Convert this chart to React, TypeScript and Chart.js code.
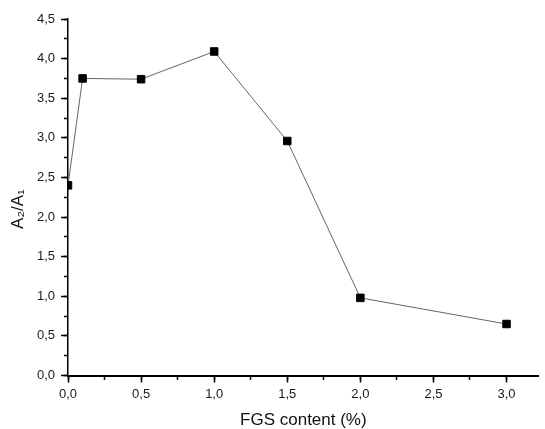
import React, { useEffect, useRef } from "react";
import { Chart, registerables } from "chart.js";

Chart.register(...registerables);

// ---- data ----
const fgsContent = [0, 0.1, 0.5, 1.0, 1.5, 2.0, 3.0];
const ratioA2A1 = [2.4, 3.75, 3.74, 4.09, 2.96, 0.98, 0.65];
const xRange = [0, 3.22];
const yRange = [0, 4.5];
const majorStep = 0.5;
const minorStep = 0.25;
const xTitle = "FGS content (%)";
const yTitle = "A\u2082/A\u2081\u00A0\u00A0\u00A0\u00A0\u00A0";

const FONT = "'Liberation Sans', Arial, Helvetica, sans-serif";
const fmt = (v: number | string) => Number(v).toFixed(1).replace(".", ",");

export default function App() {
  const ref = useRef<HTMLCanvasElement | null>(null);
  useEffect(() => {
    if (!ref.current) return;
    const chart = new Chart(ref.current, {
      type: "line",
      data: {
        datasets: [
          {
            data: fgsContent.map((x, i) => ({ x, y: ratioA2A1[i] })),
            borderColor: "#666666",
            borderWidth: 1,
            pointStyle: "rect",
            pointRadius: 5.3,
            pointHoverRadius: 5.3,
            pointBackgroundColor: "#000000",
            pointBorderColor: "#000000",
            pointBorderWidth: 1,
            tension: 0,
            clip: 0,
          } as any,
        ],
      },
      options: {
        animation: false,
        responsive: false,
        events: [],
        layout: { padding: { top: 19, right: 0, left: 0, bottom: 0 } },
        plugins: { legend: { display: false }, tooltip: { enabled: false } },
        scales: {
          x: {
            type: "linear",
            position: "bottom",
            min: xRange[0],
            max: xRange[1],
            afterFit: (s: any) => {
              s.height = 53.5;
            },
            ticks: {
              stepSize: majorStep,
              includeBounds: false,
              maxRotation: 0,
              autoSkip: false,
              padding: 4,
              color: "#1a1a1a",
              font: { family: FONT, size: 13 },
              callback: (v: any) => fmt(v),
            },
            grid: {
              drawOnChartArea: false,
              drawTicks: true,
              tickLength: 7,
              tickWidth: 1.5,
              tickColor: "#000",
            },
            border: { display: true, color: "#000", width: 2 },
            title: {
              display: true,
              text: xTitle,
              color: "#111",
              font: { family: FONT, size: 17, lineHeight: 1 },
              padding: { top: 0, bottom: 0 },
            },
          },
          y: {
            type: "linear",
            position: "left",
            min: yRange[0],
            max: yRange[1],
            afterFit: (s: any) => {
              s.width = 68;
            },
            ticks: {
              stepSize: majorStep,
              includeBounds: false,
              autoSkip: false,
              padding: 6,
              color: "#1a1a1a",
              font: { family: FONT, size: 13 },
              callback: (v: any) => fmt(v),
            },
            grid: {
              drawOnChartArea: false,
              drawTicks: true,
              tickLength: 7,
              tickWidth: 1.5,
              tickColor: "#000",
            },
            border: { display: true, color: "#000", width: 1.5 },
            title: {
              display: true,
              text: yTitle,
              color: "#111",
              font: { family: FONT, size: 17, lineHeight: 1.2 },
              padding: { top: 8, bottom: 0 },
            },
          },
          xMinor: {
            type: "linear",
            position: { y: 0 } as any,
            min: xRange[0],
            max: xRange[1],
            ticks: { stepSize: minorStep, includeBounds: false, display: false, autoSkip: false },
            grid: {
              drawOnChartArea: false,
              drawTicks: true,
              tickLength: 4,
              tickWidth: 1.5,
              tickColor: "#000",
            },
            border: { display: false },
          },
          yMinor: {
            type: "linear",
            position: { x: 0 } as any,
            min: yRange[0],
            max: yRange[1],
            ticks: { stepSize: minorStep, includeBounds: false, display: false, autoSkip: false },
            grid: {
              drawOnChartArea: false,
              drawTicks: true,
              tickLength: 4,
              tickWidth: 1.5,
              tickColor: "#000",
            },
            border: { display: false },
          },
        } as any,
      },
    });
    return () => chart.destroy();
  }, []);

  return (
    <div style={{ position: "fixed", left: 0, top: 0, width: 545, height: 429, background: "#fff" }}>
      <canvas ref={ref} width={545} height={429} style={{ display: "block" }} />
    </div>
  );
}
